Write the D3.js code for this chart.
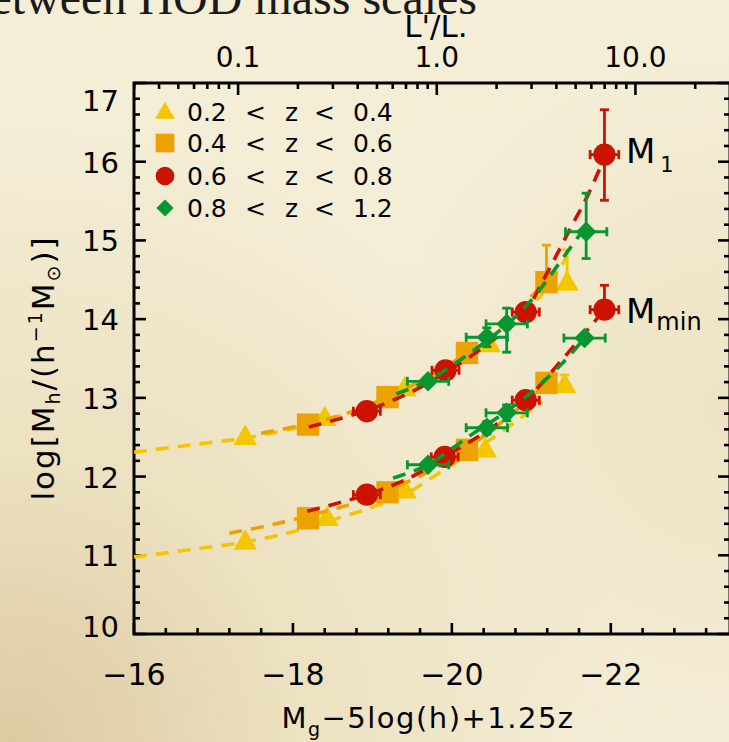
<!DOCTYPE html>
<html><head><meta charset="utf-8">
<script src="https://cdn.jsdelivr.net/npm/d3@7"></script>
<style>html,body{margin:0;padding:0;overflow:hidden;background:#f1e9cf}</style>
</head><body><script>
// ---------- data ----------
const xDomain = [-16, -23.5];
const yDomain = [10, 17];
const xMajorTicks = [-16, -18, -20, -22];
const yMajorTicks = [10, 11, 12, 13, 14, 15, 16, 17];
const topMajorTicks = [0.1, 1, 10];
const topTickLabels = ["0.1", "1.0", "10.0"];
const Mstar = -19.81; // magnitude where L/L* = 1

const legendLabels = [["0.2","0.4"],["0.4","0.6"],["0.6","0.8"],["0.8","1.2"]];
const seriesColors = ["#f4c600", "#eca300", "#cc1200", "#07962f"];
const seriesShapes = ["triangle", "square", "circle", "diamond"];

// 0.2 < z < 0.4 (triangles)
const triM1x = [-17.40, -18.40, -19.41, -20.47, -21.45];
const triM1y = [12.50, 12.74, 13.12, 13.68, 14.46];
const triM1yHi = [0, 0, 0, 0, 0.42];
const triMminx = [-17.40, -18.43, -19.41, -20.42, -21.42];
const triMminy = [11.17, 11.47, 11.82, 12.34, 13.16];
const triMminyHi = [0, 0, 0, 0, 0.13];
const triCurveM1 = [[-16.0,12.31],[-16.7,12.40],[-17.4,12.49],[-18.0,12.61],[-18.4,12.71],[-19.0,12.90],[-19.4,13.07],[-20.0,13.40],[-20.5,13.73],[-20.9,14.07],[-21.2,14.40],[-21.45,14.80]];
const triCurveMmin = [[-16.0,10.98],[-16.7,11.07],[-17.4,11.17],[-18.0,11.30],[-18.5,11.45],[-19.0,11.61],[-19.4,11.77],[-19.8,12.02],[-20.2,12.28],[-20.6,12.55],[-21.14,12.95]];

// 0.4 < z < 0.6 (squares)
const sqM1x = [-18.19, -19.19, -20.19, -21.19];
const sqM1y = [12.66, 13.01, 13.57, 14.47];
const sqM1yHi = [0, 0, 0, 0.47];
const sqMminx = [-18.19, -19.19, -20.19, -21.19];
const sqMminy = [11.47, 11.80, 12.34, 13.19];
const sqCurveM1 = [[-17.6,12.55],[-18.19,12.67],[-18.7,12.81],[-19.19,13.01],[-19.7,13.27],[-20.19,13.57],[-20.7,13.98],[-21.19,14.50]];
const sqCurveMmin = [[-17.2,11.28],[-17.7,11.38],[-18.19,11.50],[-18.7,11.64],[-19.19,11.82],[-19.7,12.06],[-20.19,12.36],[-20.7,12.75],[-21.19,13.19]];

// 0.6 < z < 0.8 (circles)
const cirM1x = [-18.93, -19.92, -20.93, -21.92];
const cirM1y = [12.83, 13.35, 14.09, 16.09];
const cirM1xErr = [0.17, 0.17, 0.17, 0.18];
const cirM1yLo = [0, 0, 0, 0.58];
const cirM1yHi = [0, 0, 0, 0.57];
const cirMminx = [-18.93, -19.91, -20.93, -21.92];
const cirMminy = [11.77, 12.25, 12.97, 14.12];
const cirMminxErr = [0.17, 0.17, 0.17, 0.18];
const cirMminyHi = [0, 0, 0, 0.31];
const cirCurveM1 = [[-18.2,12.63],[-18.93,12.84],[-19.5,13.08],[-19.95,13.34],[-20.5,13.72],[-20.93,14.09],[-21.1,14.40],[-21.3,14.78],[-21.5,15.17],[-21.7,15.55],[-21.92,16.05]];
const cirCurveMmin = [[-18.18,11.56],[-18.93,11.77],[-19.5,12.00],[-19.91,12.25],[-20.5,12.62],[-20.93,12.97],[-21.4,13.50],[-21.92,14.12]];

// 0.8 < z < 1.2 (diamonds)
const diaM1x = [-19.70, -20.44, -20.69, -21.69];
const diaM1y = [13.21, 13.77, 13.94, 15.11];
const diaM1xErr = [0.26, 0.26, 0.26, 0.26];
const diaM1yLo = [0, 0.12, 0.36, 0.34];
const diaM1yHi = [0, 0.12, 0.20, 0.49];
const diaMminx = [-19.70, -20.44, -20.69, -21.67];
const diaMminy = [12.15, 12.62, 12.81, 13.76];
const diaMminxErr = [0.26, 0.26, 0.26, 0.26];
const diaMminyLo = [0, 0.08, 0.1, 0.06];
const diaMminyHi = [0, 0.08, 0.1, 0.06];
const diaCurveM1 = [[-19.3,13.05],[-19.7,13.22],[-20.2,13.55],[-20.69,13.93],[-21.0,14.24],[-21.2,14.50],[-21.4,14.78],[-21.65,15.13]];
const diaCurveMmin = [[-19.26,11.98],[-19.7,12.15],[-20.2,12.50],[-20.69,12.83],[-21.0,13.07],[-21.4,13.45],[-21.67,13.76]];

// ---------- build ----------
function pts(xs, ys, xe, yl, yh) {
  return xs.map((x, i) => ({x, y: ys[i], xe: xe ? xe[i] : 0, yl: yl ? yl[i] : 0, yh: yh ? yh[i] : 0}));
}
const series = [
  {points: pts(triM1x, triM1y, null, null, triM1yHi).concat(pts(triMminx, triMminy, null, null, triMminyHi)), curves: [triCurveM1, triCurveMmin]},
  {points: pts(sqM1x, sqM1y, null, null, sqM1yHi).concat(pts(sqMminx, sqMminy)), curves: [sqCurveM1, sqCurveMmin]},
  {points: pts(cirM1x, cirM1y, cirM1xErr, cirM1yLo, cirM1yHi).concat(pts(cirMminx, cirMminy, cirMminxErr, null, cirMminyHi)), curves: [cirCurveM1, cirCurveMmin]},
  {points: pts(diaM1x, diaM1y, diaM1xErr, diaM1yLo, diaM1yHi).concat(pts(diaMminx, diaMminy, diaMminxErr, diaMminyLo, diaMminyHi)), curves: [diaCurveM1, diaCurveMmin]}
];

const W = 729, H = 742;
const L = 134, R = 730, T = 83, B = 634;
const x = d3.scaleLinear().domain(xDomain).range([L, R]);
const y = d3.scaleLinear().domain(yDomain).range([B, T]);
const lum = m => Math.pow(10, -0.4 * (m - Mstar));
const xTop = d3.scaleLog().domain([lum(xDomain[0]), lum(xDomain[1])]).range([L, R]);

const svg = d3.select("body").append("svg").attr("width", W).attr("height", H);
const defs = svg.append("defs");
const rg = defs.append("radialGradient").attr("id", "paper").attr("cx", "0.02").attr("cy", "1.0").attr("r", "0.85");
rg.append("stop").attr("offset", "0").attr("stop-color", "#dccaa2");
rg.append("stop").attr("offset", "0.45").attr("stop-color", "#ece1c0");
rg.append("stop").attr("offset", "1").attr("stop-color", "#f4eed7");
svg.append("rect").attr("width", W).attr("height", H).attr("fill", "url(#paper)");
const rg2 = defs.append("radialGradient").attr("id", "paper2").attr("cx", "1").attr("cy", "0.55").attr("r", "0.5");
rg2.append("stop").attr("offset", "0").attr("stop-color", "#e9dcb7").attr("stop-opacity", 0.6);
rg2.append("stop").attr("offset", "1").attr("stop-color", "#e9dcb7").attr("stop-opacity", 0);
svg.append("rect").attr("width", W).attr("height", H).attr("fill", "url(#paper2)");

// heading (cut off at the top)
svg.append("text").attr("x", 477).attr("y", 14).attr("text-anchor", "end")
  .attr("font-family", "Liberation Serif, serif").attr("font-size", 48).attr("fill", "#1a1a1a")
  .text("between HOD mass scales");

const sans = "DejaVu Sans, Liberation Sans, sans-serif";
const ink = "#000";

// frame
svg.append("rect").attr("x", L).attr("y", T).attr("width", R - L).attr("height", B - T)
  .attr("fill", "none").attr("stroke", ink).attr("stroke-width", 3);

const tickG = svg.append("g").attr("stroke", ink).attr("stroke-width", 2.6);
// bottom ticks
d3.range(0, 20).map(i => -16 - 0.4 * i).filter(v => v >= -23.5).forEach(v => {
  const major = xMajorTicks.some(t => Math.abs(t - v) < 1e-6);
  const len = major ? 11 : 6;
  tickG.append("line").attr("x1", x(v)).attr("x2", x(v)).attr("y1", B).attr("y2", B - len);
});
// left & right ticks
d3.range(0, 36).map(i => 10 + 0.2 * i).forEach(v => {
  const major = Math.abs(v - Math.round(v)) < 1e-6;
  const len = major ? 12 : 6;
  tickG.append("line").attr("x1", L).attr("x2", L + len).attr("y1", y(v)).attr("y2", y(v));
  tickG.append("line").attr("x1", R).attr("x2", R - len).attr("y1", y(v)).attr("y2", y(v));
});
// top log ticks
const lo = lum(xDomain[0]), hi = lum(xDomain[1]);
[0.01, 0.1, 1, 10].forEach(dec => {
  for (let k = 1; k <= 9; k++) {
    const v = dec * k;
    if (v < lo || v > hi) continue;
    const major = k === 1;
    tickG.append("line").attr("x1", xTop(v)).attr("x2", xTop(v)).attr("y1", T).attr("y2", T + (major ? 12 : 6));
  }
});

// tick labels
svg.append("g").selectAll("text").data(xMajorTicks).join("text")
  .attr("x", d => x(d)).attr("y", 685).attr("text-anchor", "middle")
  .attr("font-family", sans).attr("font-size", 30).attr("fill", ink)
  .text(d => "\u2212" + Math.abs(d));
svg.append("g").selectAll("text").data(yMajorTicks).join("text")
  .attr("x", 119).attr("y", d => Math.min(Math.max(y(d), T + 17), B - 8) + 11)
  .attr("text-anchor", "end")
  .attr("font-family", sans).attr("font-size", 29).attr("fill", ink)
  .text(d => d);
svg.append("g").selectAll("text").data(topMajorTicks).join("text")
  .attr("x", d => xTop(d)).attr("y", 67).attr("text-anchor", "middle")
  .attr("font-family", sans).attr("font-size", 28).attr("fill", ink)
  .text((d, i) => topTickLabels[i]);

// axis titles
svg.append("text").attr("x", 436).attr("y", 37).attr("text-anchor", "middle")
  .attr("font-family", sans).attr("font-size", 31).attr("fill", ink).text("L'/L.");
const xt = svg.append("text").attr("x", 428).attr("y", 728).attr("text-anchor", "middle")
  .attr("font-family", sans).attr("font-size", 29).attr("letter-spacing", 1.5).attr("fill", ink);
xt.append("tspan").text("M");
xt.append("tspan").attr("font-size", 19).attr("dy", 8).text("g");
xt.append("tspan").attr("dy", -8).text("\u22125log(h)+1.25z");
const yt = svg.append("text").attr("transform", "translate(54,368) rotate(-90)").attr("text-anchor", "middle")
  .attr("font-family", sans).attr("font-size", 31).attr("letter-spacing", 2).attr("fill", ink);
yt.append("tspan").text("log[M");
yt.append("tspan").attr("font-size", 19).attr("dy", 6).text("h");
yt.append("tspan").attr("dy", -6).text("/(h");
yt.append("tspan").attr("font-size", 19).attr("dy", -12).text("\u22121");
yt.append("tspan").attr("dy", 12).text("M");
yt.append("tspan").attr("font-size", 19).attr("dy", 6).text("\u2299");
yt.append("tspan").attr("dy", -6).text(")]");

// symbols
function symbolPath(shape, big) {
  const s = big ? 1 : 0.7;
  if (shape === "triangle") return d3.symbol(d3.symbolTriangle, 240 * s)();
  if (shape === "square") return d3.symbol(d3.symbolSquare, 500 * s)();
  if (shape === "circle") return d3.symbol(d3.symbolCircle, 390 * s)();
  return d3.symbol(d3.symbolSquare, 210 * s)();
}
const line = d3.line().x(d => x(d[0])).y(d => y(d[1])).curve(d3.curveCatmullRom.alpha(0.5));

series.forEach((s, si) => {
  const col = seriesColors[si], shape = seriesShapes[si];
  const g = svg.append("g");
  s.points.forEach(p => {
    const cx = x(p.x), cy = y(p.y);
    if (p.xe > 0) {
      g.append("line").attr("x1", x(p.x - p.xe)).attr("x2", x(p.x + p.xe)).attr("y1", cy).attr("y2", cy).attr("stroke", col).attr("stroke-width", 2.8);
      [p.x - p.xe, p.x + p.xe].forEach(v => g.append("line").attr("x1", x(v)).attr("x2", x(v)).attr("y1", cy - 4.5).attr("y2", cy + 4.5).attr("stroke", col).attr("stroke-width", 2.8));
    }
    if (p.yh > 0 || p.yl > 0) {
      g.append("line").attr("x1", cx).attr("x2", cx).attr("y1", y(p.y - p.yl)).attr("y2", y(p.y + p.yh)).attr("stroke", col).attr("stroke-width", 2.8);
      if (p.yh > 0) g.append("line").attr("x1", cx - 4.5).attr("x2", cx + 4.5).attr("y1", y(p.y + p.yh)).attr("y2", y(p.y + p.yh)).attr("stroke", col).attr("stroke-width", 2.8);
      if (p.yl > 0) g.append("line").attr("x1", cx - 4.5).attr("x2", cx + 4.5).attr("y1", y(p.y - p.yl)).attr("y2", y(p.y - p.yl)).attr("stroke", col).attr("stroke-width", 2.8);
    }
  });
  g.selectAll("path.m").data(s.points).join("path").attr("class", "m")
    .attr("d", symbolPath(shape, true))
    .attr("transform", p => `translate(${x(p.x)},${y(p.y) + (shape === "triangle" ? 1 : 0)})${shape === "diamond" ? " rotate(45)" : ""}`)
    .attr("fill", col);
  s.curves.forEach(c => {
    g.append("path").attr("d", line(c)).attr("fill", "none").attr("stroke", col)
      .attr("stroke-width", 3.6).attr("stroke-dasharray", "13 9");
  });
});

// legend
const legY = [112, 143, 176, 208];
const leg = svg.append("g");
legendLabels.forEach((lab, i) => {
  const col = seriesColors[i], shape = seriesShapes[i];
  leg.append("path").attr("d", symbolPath(shape, false))
    .attr("transform", `translate(165,${legY[i] + (shape === "triangle" ? 1 : 0)})${shape === "diamond" ? " rotate(45)" : ""}`)
    .attr("fill", col);
  const tok = [lab[0], "<", "z", "<", lab[1]];
  const tx = [187, 245, 285, 314, 353];
  tok.forEach((t, k) => leg.append("text").attr("x", tx[k]).attr("y", legY[i] + 9)
    .attr("font-family", sans).attr("font-size", 25).attr("fill", ink).text(t));
});

// branch labels
const m1 = svg.append("text").attr("x", 626).attr("y", 163).attr("font-family", sans).attr("font-size", 34).attr("fill", ink);
m1.append("tspan").text("M");
m1.append("tspan").attr("font-size", 21).attr("dx", 5).attr("dy", 9).text("1");
const m2 = svg.append("text").attr("x", 626).attr("y", 323).attr("font-family", sans).attr("font-size", 34).attr("fill", ink);
m2.append("tspan").text("M");
m2.append("tspan").attr("font-size", 24).attr("dx", 1).attr("dy", 7).text("min");
</script></body></html>
